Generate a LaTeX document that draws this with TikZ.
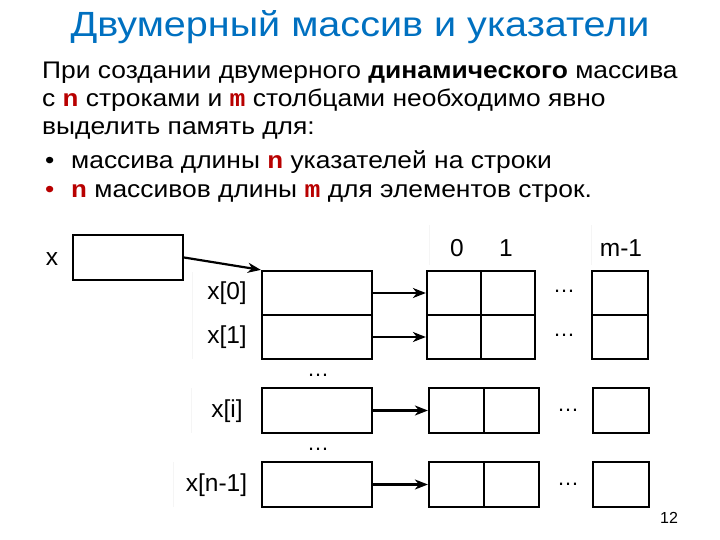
\documentclass[tikz,border=0pt]{standalone}
\usepackage{fontspec}
\setmainfont{Liberation Sans}
\newfontfamily\codefont{Liberation Mono}
\usetikzlibrary{arrows.meta}
\definecolor{titleblue}{RGB}{0,112,192}
\definecolor{codered}{RGB}{184,0,0}
\newcommand{\cv}[1]{{\codefont\bfseries\color{codered}#1}}
\newcommand{\wide}[1]{\scalebox{1.1}[1]{#1}}
\begin{document}
\begin{tikzpicture}[x=1pt,y=-1pt,
  cell/.style={draw, line width=2.2pt, inner sep=0pt, minimum height=45pt},
  ptr/.style={cell, minimum width=110pt},
  el/.style={cell, minimum width=54pt},
  elw/.style={cell, minimum width=56pt},
  lbl/.style={inner sep=0pt, font=\fontsize{24.5}{28}\selectfont},
  arr/.style={-{Stealth[length=13pt,width=10pt,inset=4pt]}, line width=2.2pt},
  dotsn/.style={anchor=base, inner sep=0pt, font=\fontsize{22}{24}\selectfont},
  body/.style={anchor=base west, inner sep=0pt, font=\fontsize{24}{28}\selectfont, text=black},
  faint/.style={draw=black!4, line width=0.6pt}]
\useasboundingbox (0,0) rectangle (720,540);
% title and text
\node[anchor=base, inner sep=0pt, font=\fontsize{35}{40}\selectfont, text=titleblue] (title) at (360,37) {\scalebox{1.13}[1]{Двумерный массив и указатели}};
\node[body] (l1) at (42,79) {\wide{При создании двумерного \textbf{динамического} массива}};
\node[body] (l2) at (42,107) {\wide{с \cv{n} строками и \cv{m} столбцами необходимо явно}};
\node[body] (l3) at (42,135) {\wide{выделить память для:}};
\node[body] (b1) at (45,169) {\wide{•}};
\node[body] (l4) at (71,169) {\wide{массива длины \cv{n} указателей на строки}};
\node[body, text=codered] (b2) at (45,197) {\wide{•}};
\node[body] (l5) at (71,197) {\wide{\cv{n} массивов длины \cv{m} для элементов строк.}};
% faint text-box edges
\draw[faint] (192,272) -- (192,359);
\draw[faint] (191,388) -- (191,433);
\draw[faint] (173,462) -- (173,507);
\draw[faint] (429,225) -- (429,265);
\draw[faint] (591,225) -- (591,265);
% pointer x
\node[lbl] (xl) at (52,259) {x};
\node[ptr] (x) at (128,257.5) {};
% pointer array
\node[ptr, minimum height=44pt] (p0) at (317,293) {};
\node[ptr, minimum height=44pt] (p1) at (317,337) {};
\node[ptr] (pi) at (317,410.5) {};
\node[ptr] (pn) at (317,484.5) {};
\node[lbl] (lp0) at (227,293) {x[0]};
\node[lbl] (lp1) at (227,337) {x[1]};
\node[lbl] (lpi) at (227,411) {x[i]};
\node[lbl] (lpn) at (216.5,485) {x[n-1]};
% column labels
\node[lbl] (c0) at (457,248) {0};
\node[lbl] (c1) at (506,248) {1};
\node[lbl] (cm) at (621,248) {m-1};
% rows
\node[el, minimum height=44pt] (a00) at (454,293) {};
\node[el, minimum height=44pt] (a01) at (508,293) {};
\node[elw, minimum height=44pt] (a0m) at (620,293) {};
\node[el, minimum height=44pt] (a10) at (454,337) {};
\node[el, minimum height=44pt] (a11) at (508,337) {};
\node[elw, minimum height=44pt] (a1m) at (620,337) {};
\node[el, minimum width=55pt] (ai0) at (456.5,410.5) {};
\node[el, minimum width=55pt] (ai1) at (511.5,410.5) {};
\node[elw] (aim) at (621,410.5) {};
\node[el, minimum width=55pt] (an0) at (456.5,484.5) {};
\node[el, minimum width=55pt] (an1) at (511.5,484.5) {};
\node[elw] (anm) at (621,484.5) {};
% dots
\node[dotsn] (d0) at (564,292) {…};
\node[dotsn] (d1) at (564,336) {…};
\node[dotsn] (dp1) at (318,376) {…};
\node[dotsn] (di) at (568,411) {…};
\node[dotsn] (dp2) at (318,450) {…};
\node[dotsn] (dn) at (568,485) {…};
% arrows
\draw[arr] (x.east) -- (p0.north west);
\draw[arr] (p0.east) -- (a00.west);
\draw[arr] (p1.east) -- (a10.west);
\draw[arr] (pi.east) -- (ai0.west);
\draw[arr] (pn.east) -- (an0.west);
% page number
\node[inner sep=0pt, font=\fontsize{16}{18}\selectfont] (num) at (669,518) {12};
\end{tikzpicture}
\end{document}
